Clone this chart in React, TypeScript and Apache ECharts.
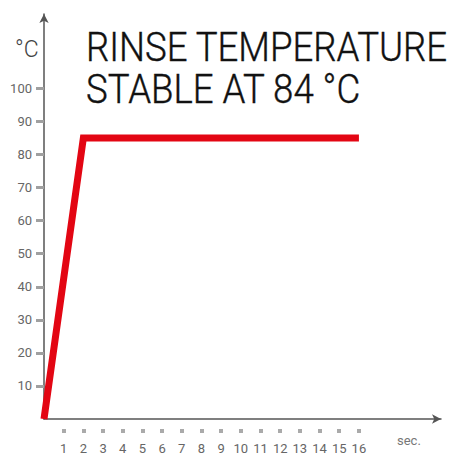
import React, { useEffect, useRef } from "react";
import * as echarts from "echarts";

const seconds = [0, 2, 16];
const temperatures = [0, 85, 85];
const yTickValues = [10, 20, 30, 40, 50, 60, 70, 80, 90, 100];
const xTickValues = [1, 2, 3, 4, 5, 6, 7, 8, 9, 10, 11, 12, 13, 14, 15, 16];
const titleLines = ["RINSE TEMPERATURE", "STABLE AT 84 °C"];
const yUnit = "°C";
const xUnit = "sec.";

export default function App() {
  const ref = useRef<HTMLDivElement>(null);
  useEffect(() => {
    document.body.style.margin = "0";
    const chart = echarts.init(ref.current!, null, { renderer: "svg" });
    const gray = "#a0a0a0";
    chart.setOption({
      animation: false,
      grid: { left: 44, right: 455 - 441, top: 14, bottom: 455 - 423, containLabel: false },
      xAxis: [
        {
          type: "value",
          min: 0,
          max: 20.17,
          axisLine: {
            show: true,
            lineStyle: { color: "#555", width: 1.5 },
            symbol: ["none", "arrow"],
            symbolSize: [7, 9],
          },
          axisTick: { show: false },
          axisLabel: { show: false },
          splitLine: { show: false },
        },
        {
          type: "value",
          min: 0,
          max: 20.17,
          position: "bottom",
          offset: 10,
          axisLine: { show: false },
          axisTick: {
            show: true,
            length: 4,
            lineStyle: { color: "#aaa", width: 4 },
            customValues: xTickValues,
          },
          axisLabel: {
            show: true,
            customValues: xTickValues,
            color: "#666",
            fontSize: 13,
            fontFamily: "Roboto",
            margin: 13,
          },
          splitLine: { show: false },
        },
      ],
      yAxis: {
        type: "value",
        min: 0,
        max: 122.5,
        interval: 10,
        axisLine: {
          show: true,
          lineStyle: { color: "#555", width: 1.5 },
          symbol: ["none", "arrow"],
          symbolSize: [7, 9],
        },
        axisTick: {
          show: true,
          length: 8,
          lineStyle: { color: gray, width: 3 },
          customValues: yTickValues,
        },
        axisLabel: {
          show: true,
          customValues: yTickValues,
          color: "#666",
          fontSize: 13,
          fontFamily: "Roboto",
          margin: 12,
        },
        splitLine: { show: false },
      },
      graphic: [
        {
          type: "text",
          x: 86,
          y: 26,
          scaleX: 0.915,
          style: {
            text: titleLines.join("\n"),
            font: "300 40px Roboto",
            lineHeight: 42,
            fill: "#111",
            stroke: "#111",
            lineWidth: 0.4,
          },
        },
        {
          type: "text",
          left: 15,
          top: 38,
          style: { text: yUnit, font: "300 23px Roboto", fill: "#444" },
        },
        {
          type: "text",
          left: 397,
          top: 434,
          style: { text: xUnit, font: "13px Roboto", fill: "#777" },
        },
      ],
      series: [
        {
          type: "line",
          xAxisIndex: 0,
          data: seconds.map((s, i) => [s, temperatures[i]]),
          symbol: "none",
          lineStyle: { color: "#e30613", width: 7, join: "miter", cap: "butt" },
        },
      ],
    });
    return () => chart.dispose();
  }, []);
  return <div ref={ref} style={{ position: "absolute", left: 0, top: 0, width: 455, height: 455 }} />;
}
